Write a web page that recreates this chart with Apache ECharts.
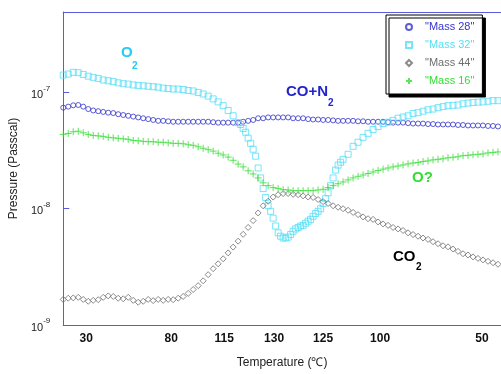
<!DOCTYPE html>
<html><head><meta charset="utf-8">
<script src="https://cdn.jsdelivr.net/npm/echarts@6/dist/echarts.min.js"></script>
<style>html,body{margin:0;padding:0;background:#fff}#c{width:501px;height:374px}</style>
</head><body><div id="c"></div>
<script>
// time axis (arbitrary run-time units)
const time = [0,1,2,3,4,5,6,7,8,9,10,11,12,13,14,15,16,17,18,19,20,21,22,23,24,25,26,27,28,29,30,31,32,33,34,35,36,37,38,39,40,41,42,43,44,45,46,47,48,49,50,51,52,53,54,55,56,57,58,59,60,61,62,63,64,65,66,67,68,69,70,71,72,73,74,75,76,77,78,79,80,81,82,83,84,85,86,87];
const timeO2 = [0,1,2,3,4,5,6,7,8,9,10,11,12,13,14,15,16,17,18,19,20,21,22,23,24,25,26,27,28,29,30,31,32,33,34,
  35,35.5,36,36.5,37,37.5,38,38.5,39,39.5,40,40.5,41,41.5,42,42.5,43,43.5,44,44.5,45,45.5,46,46.5,47,47.5,48,48.5,49,49.5,50,50.5,51,51.5,52,52.5,53,53.5,54,54.5,55,55.5,56,
  57,58,59,60,61,62,63,64,65,66,67,68,69,70,71,72,73,74,75,76,77,78,79,80,81,82,83,84,85,86,87];
// pressures in nPa (1e-9 Pa)
const mass28 = [74,75.5,77.5,78,75.5,72,70,69,68,67,
  66.5,65,64,63,62,61,60,59,58,57,
  57,56.5,56,56,56,56,56,56,56,56,
  55.5,55,55,55,55,55,56,57,58,60,
  60,61,61,61,61,61,60,60,60,59,
  58.5,58.5,58,58,57.5,57,57,57,57,56.5,
  56.5,56,56,56,56,55.5,55,55,55,54.5,
  54,54,54,53.5,53.5,53,53,53,53,52.5,
  52.5,52,52,52,52,51.5,51.5,51];
const mass32 = [141,144,149,148,143,138,135,132,128,126,
  124,121,119,118,116,115,114,113,112,111,
  109,108,107,107,106,104,103,100,97,93,
  88,83,77,70,63,
  55,53,49,45.5,40.5,36.5,32.5,28.3,22.4,18.4,
  14.9,12.5,10.6,9.5,8.3,7.1,6.2,5.8,5.6,5.6,
  5.7,6.0,6.4,6.7,6.9,7.1,7.2,7.5,7.8,8.1,
  8.6,9.1,9.5,10.0,11.1,12.2,13.7,15.8,18.4,21.5,
  23.7,25.1,26.6,
  29.4,34.4,37.3,41.1,44.5,48,51,54,55.5,57.5,
  60,61.5,63,66,67,69,71,72,74,75.5,
  77,77.5,78,80,81,82,82.5,83,84,85,85];
const mass44 = [1.66,1.70,1.71,1.73,1.66,1.60,1.63,1.65,1.73,1.78,
  1.76,1.70,1.68,1.73,1.63,1.57,1.60,1.66,1.62,1.66,
  1.63,1.66,1.65,1.70,1.76,1.87,2.02,2.18,2.40,2.71,
  3.05,3.36,3.71,4.17,4.68,5.26,6.03,6.9,7.9,9.2,
  10.6,11.6,12.6,13.2,13.5,13.5,13.3,13.2,12.9,12.6,
  12.5,12,11.5,11.1,10.6,10.3,10,9.7,9.3,8.9,
  8.5,8.2,8.1,7.7,7.4,7.2,6.9,6.7,6.5,6.2,
  6,5.8,5.6,5.45,5.2,5,4.8,4.7,4.5,4.3,
  4.1,4,3.85,3.74,3.63,3.53,3.43,3.33];
const mass16 = [43.6,44.4,45.9,46.4,45,43.6,42.7,42.3,41.9,41.1,
  40.7,40.3,39.9,39.5,38.7,38.4,38,37.7,37.7,37.3,
  37.3,36.9,36.5,36.5,36.2,35.5,35.1,34.1,33.1,32.2,
  31.3,30,29,27.8,26.1,24.2,22.9,21.2,19.9,18.4,
  16.7,15.8,15.2,14.9,14.6,14.5,14.3,14.3,14.3,14.3,
  14.3,14.5,14.7,15.2,15.8,16.4,17,17.7,18.4,19,
  19.5,20.1,20.7,21.3,21.9,22.4,22.9,23.3,23.8,24.3,
  24.7,25,25.5,25.8,26.3,26.6,26.9,27.4,27.7,28,
  28.6,28.8,29.1,29.4,29.6,30.2,30.5,30.8];
// temperature tick labels along the run
const tickTimes = [4.6,21.6,32.2,42.2,52,63.4,83.8];
const tickLabels = ['30','80','115','130','125','100','50'];
const seriesNames = ['"Mass 28"','"Mass 32"','"Mass 44"','"Mass 16"'];

const NPA = 1e-9;
const FONT = 'Liberation Sans, Arial, sans-serif';
const AXIS = '#5a5ae0';
const colors = ['#3535cf','#55def6','#6e6e6e','#33dd33'];
const symbols = ['circle','rect','diamond','path://M5,0L5,10M0,5L10,5'];
const pairs = (t, v) => t.map((x, i) => [x, v[i] * NPA]);

const chart = echarts.init(document.getElementById('c'), null, {renderer: 'canvas'});
function sc(i, data, size) {
  return {type: 'scatter', name: seriesNames[i], data, symbol: symbols[i], symbolSize: size, animation: false,
    itemStyle: {color: 'rgba(0,0,0,0)', borderColor: colors[i], borderWidth: 1},
    emphasis: {disabled: true}};
}
chart.setOption({
  backgroundColor: '#fff',
  textStyle: {fontFamily: FONT},
  grid: {left: 63, right: 0, top: 12, bottom: 45},
  xAxis: [{
    type: 'value', min: 0, max: 87.6, position: 'bottom',
    axisLine: {show: true, onZero: false, lineStyle: {color: AXIS, width: 1}},
    axisTick: {show: false}, splitLine: {show: false},
    axisLabel: {customValues: tickTimes, formatter: v => {
      const i = tickTimes.findIndex(t => Math.abs(t - v) < 1e-6); return i >= 0 ? tickLabels[i] : ''; },
      fontWeight: 'bold', fontSize: 12, color: '#111', margin: 8, fontFamily: FONT},
    name: 'Temperature (℃)', nameLocation: 'middle', nameGap: 32,
    nameTextStyle: {fontSize: 12, color: '#222', fontFamily: FONT}
  }, {
    type: 'value', min: 0, max: 87.6, position: 'top',
    axisLine: {show: true, onZero: false, lineStyle: {color: AXIS, width: 1}},
    axisTick: {show: false}, axisLabel: {show: false}, splitLine: {show: false}
  }],
  yAxis: {
    type: 'log', logBase: 10, min: 1e-9, max: 4.92e-7,
    axisLine: {show: true, onZero: false, lineStyle: {color: AXIS, width: 1}},
    axisTick: {show: true, inside: true, length: 6, lineStyle: {color: AXIS}},
    splitLine: {show: false},
    axisLabel: {margin: 13, formatter: v => {
      const e = Math.log10(v); if (Math.abs(e - Math.round(e)) > 0.01) return '';
      return '{b|10}{s|' + Math.round(e) + '}'; },
      rich: {b: {fontSize: 11, color: '#222', lineHeight: 16, verticalAlign: 'bottom', fontFamily: FONT},
             s: {fontSize: 8, color: '#222', verticalAlign: 'top', fontFamily: FONT}}},
    name: 'Pressure (Passcal)', nameLocation: 'middle', nameGap: 42,
    nameTextStyle: {fontSize: 12, color: '#222', fontFamily: FONT, padding: [0, 0, 0, 0]}
  },
  legend: {
    orient: 'vertical', left: 386, top: 15, padding: [5, 8, 6, 19], itemGap: 4,
    itemWidth: 6, itemHeight: 6, backgroundColor: '#fff', borderColor: '#000', borderWidth: 1,
    shadowColor: '#000', shadowOffsetX: 3, shadowOffsetY: 3, shadowBlur: 0,
    textStyle: {fontSize: 11, lineHeight: 14, fontFamily: FONT, padding: [0, 0, 0, 8]},
    data: seriesNames.map((n, i) => ({name: n, icon: symbols[i], textStyle: {color: colors[i]}}))
  },
  series: [
    sc(0, pairs(time, mass28), 5),
    sc(1, pairs(timeO2, mass32), 6),
    sc(2, pairs(time, mass44), 6),
    sc(3, pairs(time, mass16), 7)
  ],
  graphic: [
    {type: 'text', x: 121, y: 45, style: {text: 'O', font: 'bold 15px ' + FONT, fill: '#22ccf2'}},
    {type: 'text', x: 132, y: 61, style: {text: '2', font: 'bold 10px ' + FONT, fill: '#22ccf2'}},
    {type: 'text', x: 286, y: 84, style: {text: 'CO+N', font: 'bold 15px ' + FONT, fill: '#2323cc'}},
    {type: 'text', x: 328, y: 98, style: {text: '2', font: 'bold 10px ' + FONT, fill: '#2323cc'}},
    {type: 'text', x: 412, y: 170, style: {text: 'O?', font: 'bold 15px ' + FONT, fill: '#33dd33'}},
    {type: 'text', x: 393, y: 249, style: {text: 'CO', font: 'bold 15px ' + FONT, fill: '#000'}},
    {type: 'text', x: 416, y: 262, style: {text: '2', font: 'bold 10px ' + FONT, fill: '#000'}}
  ]
});
</script></body></html>
